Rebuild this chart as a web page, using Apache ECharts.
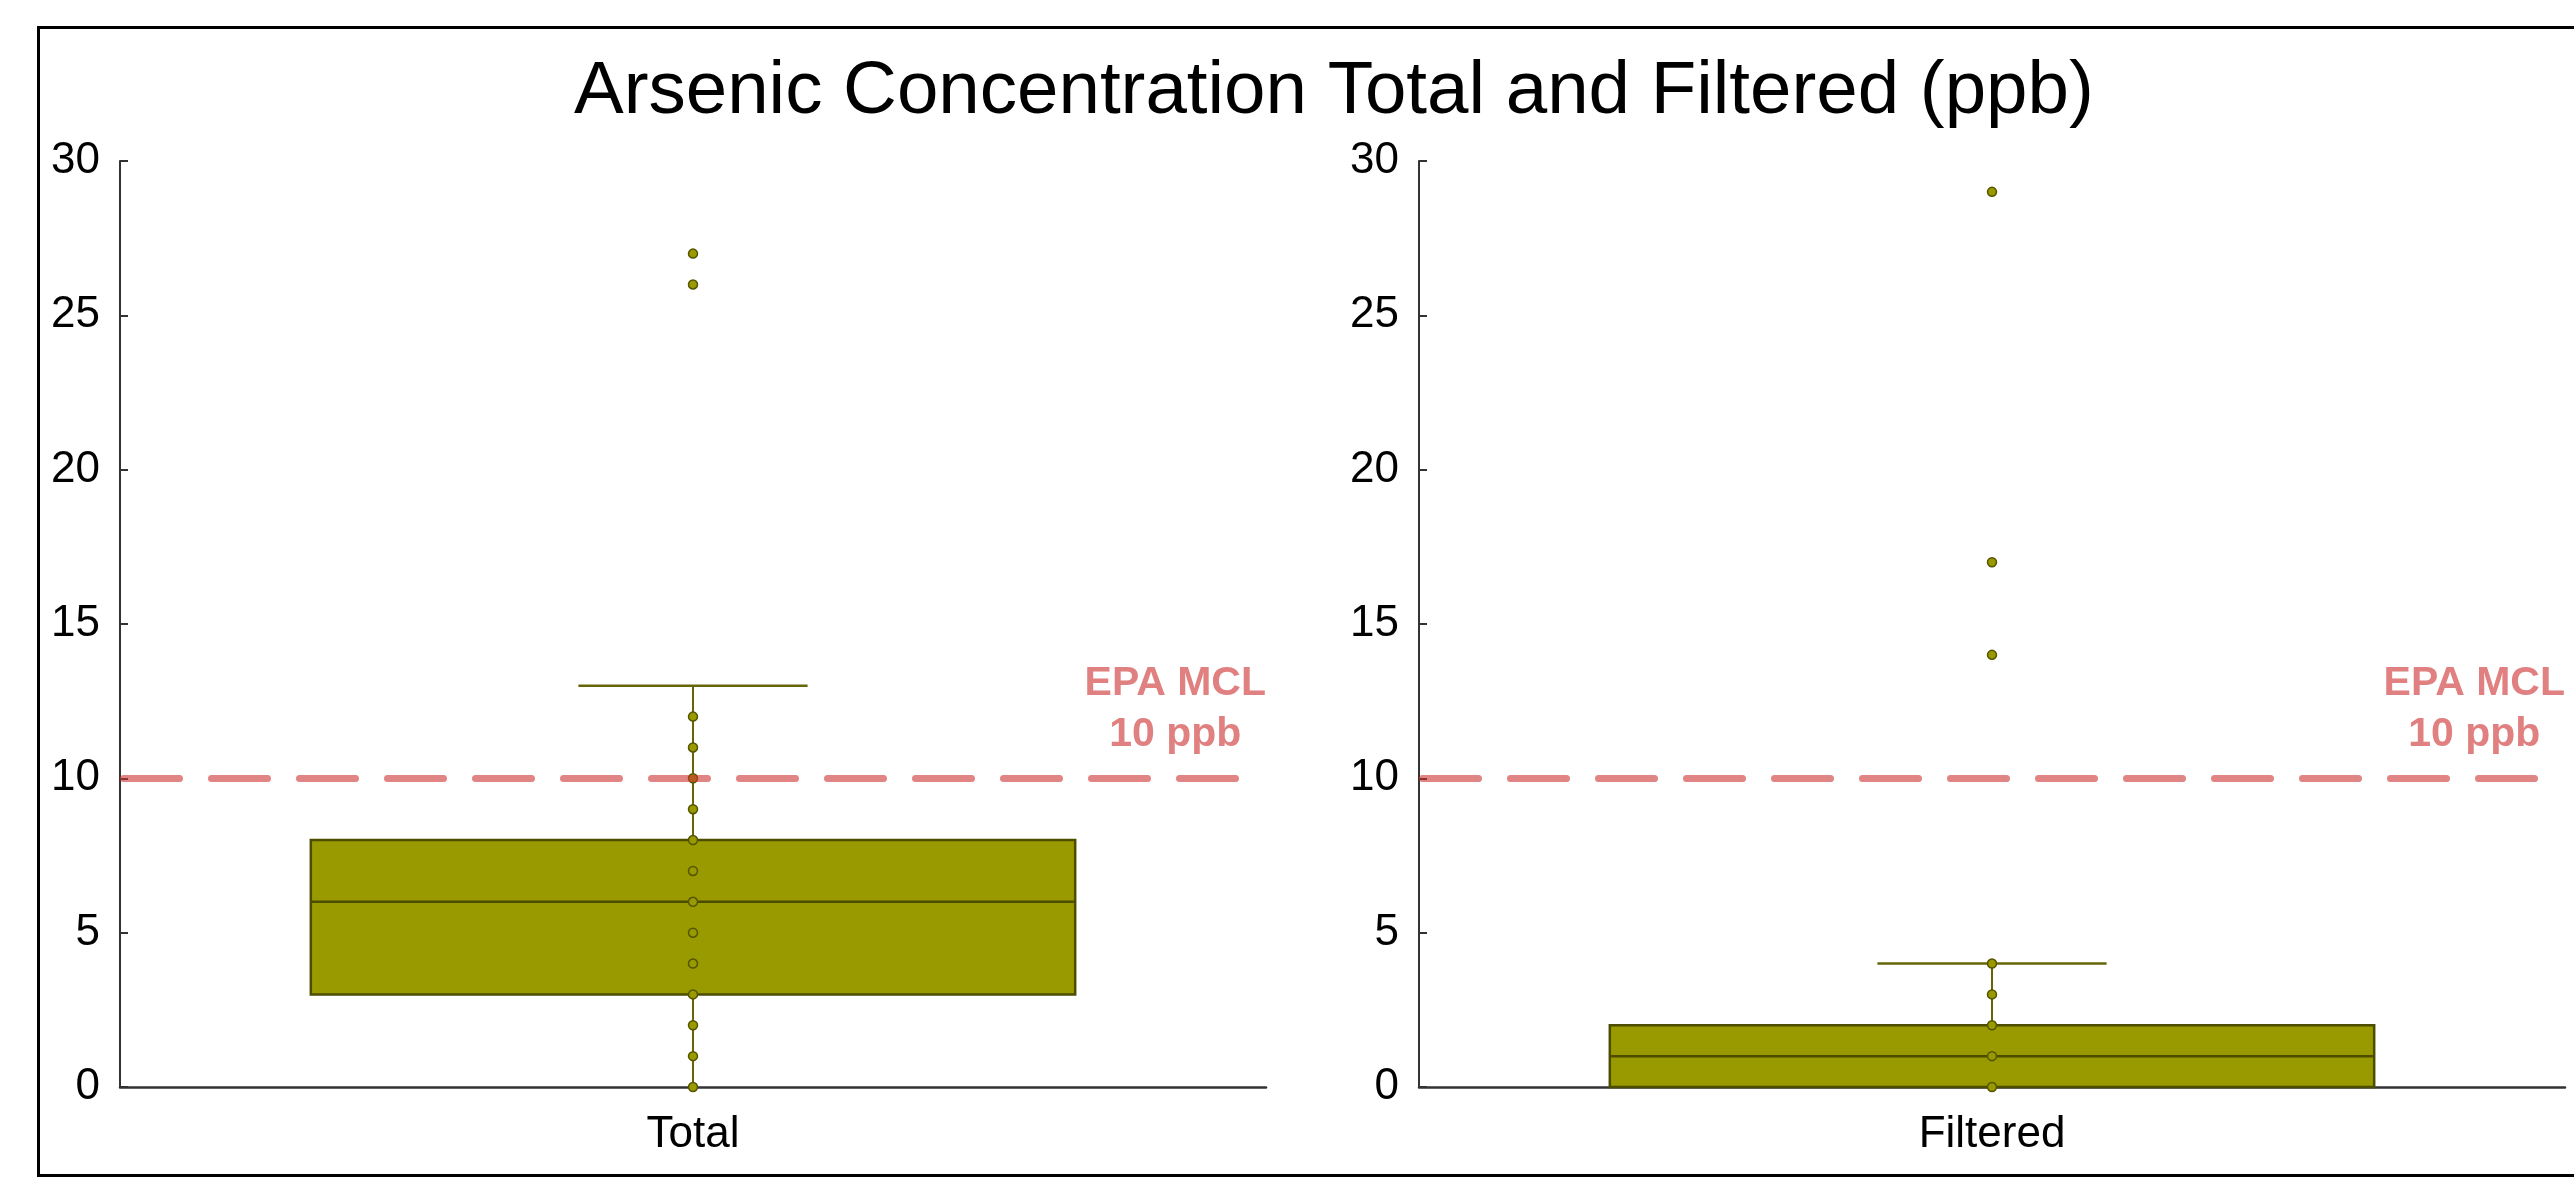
<!DOCTYPE html>
<html>
<head>
<meta charset="utf-8">
<script src="https://cdn.jsdelivr.net/npm/echarts@6/dist/echarts.min.js"></script>
<style>
html,body{margin:0;padding:0;background:#fff;}
#chart{width:2574px;height:1177px;}
</style>
</head>
<body>
<div id="chart"></div>
<script>
// ---- data ----
const titleText = 'Arsenic Concentration Total and Filtered (ppb)';
const categoriesTotal = ['Total'];
const categoriesFiltered = ['Filtered'];
// [min whisker, Q1, median, Q3, max whisker]
const totalBox = [0, 3, 6, 8, 13];
const filteredBox = [0, 0, 1, 2, 4];
// individual observations (strip points)
const totalPoints = [0, 1, 2, 3, 4, 5, 6, 7, 8, 9, 10, 11, 12, 26, 27];
const filteredPoints = [0, 1, 2, 3, 4, 14, 17, 29];
const yMin = 0, yMax = 30, yInterval = 5;
const epaMcl = 10;
const epaLabel = ['EPA MCL', '10 ppb'];

const FONT = "'Liberation Sans', Arial, Helvetica, sans-serif";
const BOX_FILL = '#999900';
const BOX_EDGE = '#4d4d00';
const WHISKER = '#666608';

const chart = echarts.init(document.getElementById('chart'), null, {renderer: 'canvas'});

function renderBox(params, api) {
  const x = api.value(0);
  const lo = api.coord([x, api.value(1)]);
  const q1 = api.coord([x, api.value(2)]);
  const med = api.coord([x, api.value(3)]);
  const q3 = api.coord([x, api.value(4)]);
  const hi = api.coord([x, api.value(5)]);
  const band = api.size([1, 0])[0];
  const bw = band * 0.667;
  const cw = band * 0.2;
  const cx = q1[0];
  const children = [];
  if (hi[1] < q3[1]) {
    children.push({type: 'line', shape: {x1: cx, y1: q3[1], x2: cx, y2: hi[1]}, style: {stroke: WHISKER, lineWidth: 2}});
    children.push({type: 'line', shape: {x1: cx - cw / 2, y1: hi[1], x2: cx + cw / 2, y2: hi[1]}, style: {stroke: WHISKER, lineWidth: 2.5}});
  }
  if (lo[1] > q1[1]) {
    children.push({type: 'line', shape: {x1: cx, y1: q1[1], x2: cx, y2: lo[1]}, style: {stroke: WHISKER, lineWidth: 2}});
  }
  children.push({type: 'rect', shape: {x: cx - bw / 2, y: q3[1], width: bw, height: q1[1] - q3[1]},
    style: {fill: BOX_FILL, stroke: BOX_EDGE, lineWidth: 2.5}});
  children.push({type: 'line', shape: {x1: cx - bw / 2, y1: med[1], x2: cx + bw / 2, y2: med[1]},
    style: {stroke: BOX_EDGE, lineWidth: 2.5}});
  return {type: 'group', children: children};
}

function yAxisOpt(gi) {
  return {
    gridIndex: gi, type: 'value', min: yMin, max: yMax, interval: yInterval,
    axisLine: {show: true, lineStyle: {color: '#333', width: 2}},
    axisTick: {show: true, inside: true, length: 8, lineStyle: {color: '#333', width: 2}},
    axisLabel: {fontSize: 44, color: '#000', fontFamily: FONT, margin: 20},
    splitLine: {show: false}
  };
}
function xAxisOpt(gi, cats) {
  return {
    gridIndex: gi, type: 'category', data: cats, boundaryGap: true,
    axisLine: {show: true, lineStyle: {color: '#333', width: 2.5}},
    axisTick: {show: false},
    axisLabel: {fontSize: 44, color: '#000', fontFamily: FONT, margin: 26},
    splitLine: {show: false}
  };
}

const epaMarkLine = {
  silent: true,
  symbol: 'none',
  lineStyle: {color: 'rgba(205,50,50,0.6)', width: 7, type: [56, 32], cap: 'round', dashOffset: -3.5},
  label: {
    show: true, position: 'insideEndTop', distance: [0, 18],
    formatter: '{a|' + epaLabel[0] + '}\n{a|' + epaLabel[1] + '}',
    rich: {a: {fontSize: 41, fontWeight: 'bold', color: '#e08080', lineHeight: 51, align: 'center', fontFamily: FONT}}
  },
  emphasis: {disabled: true},
  data: [{yAxis: epaMcl}]
};

function pointsSeries(gi, pts) {
  return {
    type: 'scatter', xAxisIndex: gi, yAxisIndex: gi, z: 4,
    symbol: 'circle', symbolSize: 9,
    itemStyle: {color: BOX_FILL, borderColor: '#555500', borderWidth: 1.5, opacity: 1},
    data: pts.map(v => [0, v]),
    silent: true
  };
}

const option = {
  animation: false,
  backgroundColor: '#fff',
  textStyle: {fontFamily: FONT},
  title: {
    text: titleText, left: 574, top: 55, padding: 0,
    textStyle: {fontSize: 74.5, fontWeight: 'normal', color: '#000', fontFamily: FONT}
  },
  grid: [
    {left: 120, top: 161, width: 1146, height: 926},
    {left: 1419, top: 161, width: 1146, height: 926}
  ],
  xAxis: [xAxisOpt(0, categoriesTotal), xAxisOpt(1, categoriesFiltered)],
  yAxis: [yAxisOpt(0), yAxisOpt(1)],
  graphic: [{
    type: 'rect', left: 36, top: 25, z: 100, silent: true,
    shape: {width: 2600, height: 1148},
    style: {fill: 'none', stroke: '#000', lineWidth: 3}
  }],
  series: [
    {type: 'custom', xAxisIndex: 0, yAxisIndex: 0, z: 2, renderItem: renderBox,
     encode: {x: 0, y: [1, 2, 3, 4, 5]}, data: [[0].concat(totalBox)], silent: true},
    {type: 'custom', xAxisIndex: 1, yAxisIndex: 1, z: 2, renderItem: renderBox,
     encode: {x: 0, y: [1, 2, 3, 4, 5]}, data: [[0].concat(filteredBox)], silent: true},
    pointsSeries(0, totalPoints),
    pointsSeries(1, filteredPoints),
    {type: 'line', xAxisIndex: 0, yAxisIndex: 0, z: 6, data: [], markLine: epaMarkLine},
    {type: 'line', xAxisIndex: 1, yAxisIndex: 1, z: 6, data: [], markLine: epaMarkLine}
  ]
};
chart.setOption(option);
</script>
</body>
</html>
